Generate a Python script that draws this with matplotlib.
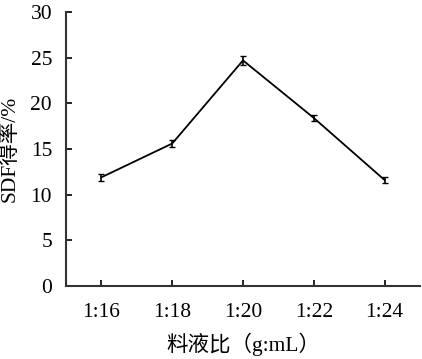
import matplotlib.pyplot as plt
import numpy as np

plt.rcParams['font.family'] = ['Liberation Serif', 'Noto Sans CJK SC']

ratios = ["1:16", "1:18", "1:20", "1:22", "1:24"]
sdf_yield = [11.9, 15.6, 24.7, 18.4, 11.6]
err = [0.4, 0.35, 0.45, 0.35, 0.35]

fig = plt.figure(figsize=(4.22, 3.59), dpi=100)
ax = fig.add_axes([66/422, 1-286/359, (420-66)/422, (286-12)/359])

x = np.arange(len(ratios))
ax.errorbar(x, sdf_yield, yerr=err, color="black", lw=1.3, capsize=2.5, elinewidth=1.2)

ax.set_xlim(-0.5, 4.5)
ax.set_ylim(0, 30)
ax.set_xticks(x)
ax.set_xticklabels(ratios)
ax.set_yticks(range(0, 31, 5))
ax.tick_params(direction="in", labelsize=15.5, length=4, width=1.2)
ax.tick_params(axis="x", pad=12)
ax.tick_params(axis="y", pad=10)
for s in ["top", "right"]:
    ax.spines[s].set_visible(False)
for s in ["left", "bottom"]:
    ax.spines[s].set_linewidth(1.5)
    ax.spines[s].set_color("#333333")

ax.set_xlabel("料液比（g:mL）", fontsize=15.5, labelpad=8)
ax.set_ylabel("SDF得率/%", fontsize=15.5, labelpad=8)

fig.savefig("out.png", dpi=100)
